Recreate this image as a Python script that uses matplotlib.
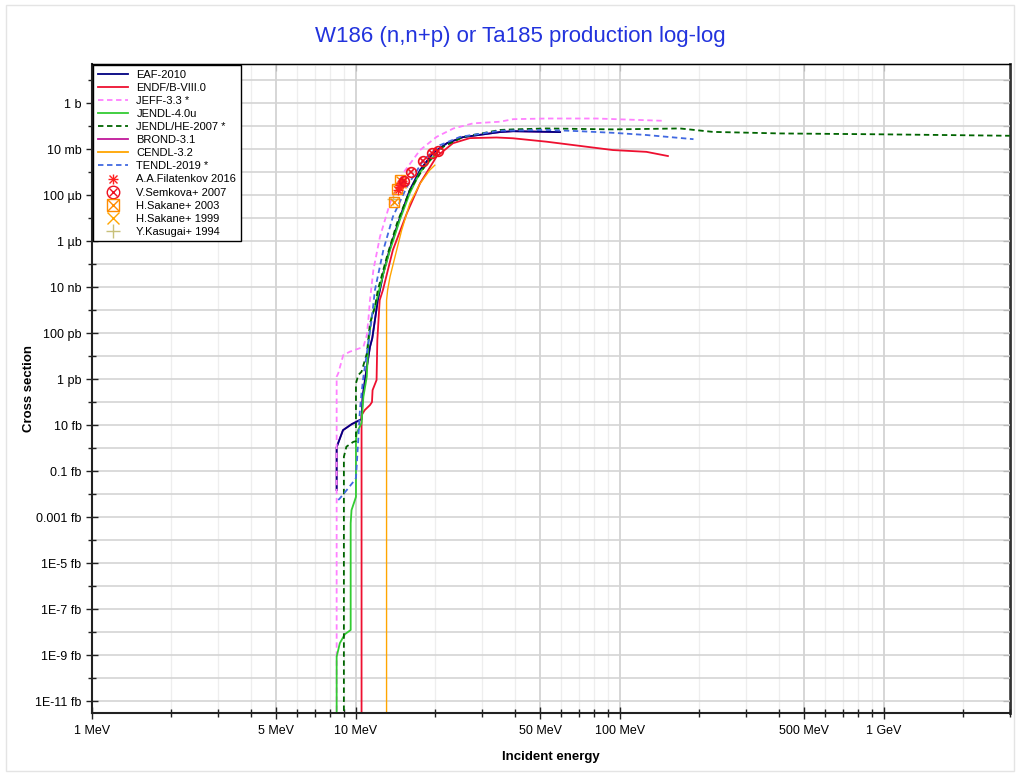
import numpy as np
import matplotlib
matplotlib.use("Agg")
import matplotlib.pyplot as plt
from matplotlib.patches import Rectangle
from matplotlib.ticker import FixedLocator, NullFormatter

plt.rcParams['font.family'] = ['Liberation Sans', 'DejaVu Sans']

# energies in MeV, cross sections in barn
eaf_e = [8.45, 8.45, 8.93, 9.64, 10.5, 10.6, 10.98, 11.3, 11.53, 11.8, 12.1, 12.7, 13.5,
         14.7, 16.0, 17.5, 19.6, 22.1, 25.4, 35.1, 39.4, 59.3]
eaf_xs = [1.5e-17, 1.1e-15, 6.0e-15, 1.1e-14, 1.8e-14, 1.7e-13, 3.0e-12, 2.5e-11, 6.0e-11,
          3.7e-10, 2.7e-9, 4.1e-8, 5.5e-7, 1.1e-5, 1.66e-4, 1.23e-3, 6.8e-3, 1.8e-2, 3.3e-2,
          5.5e-2, 6.0e-2, 5.5e-2]

endf_e = [10.5, 10.5, 10.8, 11.3, 11.5, 11.56, 11.97, 12.05, 12.3, 12.65, 13.8, 15.6, 17.5,
          20.2, 23.3, 27.0, 34.1, 39.4, 52.7, 70.5, 94.0, 126, 152]
endf_xs = [1e-28, 2.7e-14, 4.5e-14, 7.4e-14, 1.0e-13, 3.3e-13, 9.1e-13, 5.0e-11, 2.7e-9,
           7.4e-9, 4.1e-7, 1.66e-5, 3.3e-4, 4.7e-3, 1.8e-2, 3.0e-2, 3.2e-2, 2.95e-2, 2.1e-2,
           1.38e-2, 9.1e-3, 7.6e-3, 5.0e-3]

jeff_e = [8.45, 8.45, 8.57, 8.95, 9.48, 10.67, 10.99, 11.14, 11.3, 11.64, 12.33, 13.46, 15.1,
          17.5, 20.2, 23.4, 27.8, 35.1, 39.4, 52.7, 81.5, 146]
jeff_xs = [1e-28, 1.26e-12, 1.8e-12, 1.1e-11, 1.55e-11, 2.5e-11, 8.1e-11, 3.7e-10, 2.7e-9,
           5.5e-8, 1.55e-6, 4.5e-5, 9.1e-4, 9.1e-3, 3.4e-2, 7.9e-2, 0.132, 0.155, 0.20, 0.214,
           0.214, 0.17]

jendl_e = [8.45, 8.45, 8.69, 9.08, 9.55, 9.55, 9.62, 9.91, 10.0, 10.0, 10.06, 10.5, 10.67,
           10.99, 11.14, 11.46, 11.8, 12.65, 13.46, 14.7, 16.0, 17.5, 19.9]
jendl_xs = [1.6e-27, 8.5e-25, 3.3e-24, 8.1e-24, 1.23e-23, 5.4e-19, 2.0e-18, 5.5e-18, 7.6e-18,
            2.2e-15, 4.5e-15, 1.23e-14, 1.7e-13, 1.26e-12, 3.7e-11, 5.1e-10, 1.38e-9, 3.3e-8,
            4.1e-7, 9.1e-6, 1.23e-4, 1.0e-3, 5.5e-3]

jendlhe_e = [9.0, 9.0, 9.2, 9.77, 10.0, 10.0, 10.2, 10.5, 11.0, 11.3, 11.8, 12.1, 13.1, 14.3,
             16.0, 18.5, 21.4, 25.5, 35.1, 39.4, 52.7, 94.4, 169, 225, 404, 966, 3000]
jendlhe_xs = [1e-28, 4.2e-16, 1.15e-15, 1.86e-15, 2.0e-15, 6.5e-13, 1.48e-12, 2.1e-12,
              1.32e-11, 2.6e-10, 1.38e-9, 7.4e-9, 2.1e-7, 5.9e-6, 1.66e-4, 2.4e-3, 1.26e-2,
              3.4e-2, 6.8e-2, 7.2e-2, 7.9e-2, 7.2e-2, 7.9e-2, 5.6e-2, 4.8e-2, 4.4e-2, 3.8e-2]

tendl_e = [8.57, 8.69, 9.23, 9.77, 10.0, 10.2, 10.35, 10.5, 10.67, 11.14, 11.46, 11.8, 12.7,
           13.8, 15.6, 18.0, 20.8, 24.8, 35.1, 52.7, 70.5, 94.4, 126, 190]
tendl_xs = [5.5e-18, 6.5e-18, 1.5e-17, 3.4e-17, 5.0e-17, 2.2e-15, 4.5e-14, 2.5e-13, 1.26e-12,
            3.7e-11, 3.7e-10, 7.4e-9, 4.1e-7, 1.15e-5, 2.3e-4, 3.3e-3, 1.48e-2, 3.4e-2,
            6.3e-2, 6.8e-2, 6.0e-2, 5.1e-2, 4.1e-2, 2.7e-2]

cendl_e = [13.06, 13.06, 13.18, 13.46, 14.06, 14.9, 16.0, 17.5, 19.05, 19.9]
cendl_xs = [1e-28, 2.7e-9, 7.4e-9, 2.8e-8, 2.1e-7, 3.0e-6, 4.4e-5, 3.2e-4, 1.23e-3, 2.0e-3]

# experimental points
filat_e = [14.4, 14.55, 14.7, 14.85, 15.0, 15.1]
filat_xs = [1.66e-4, 2.2e-4, 2.7e-4, 3.3e-4, 4.1e-4, 3.3e-4]
semk_e = [15.2, 16.1, 18.0, 19.4, 20.5]
semk_xs = [4.2e-4, 9.8e-4, 3.1e-3, 6.5e-3, 8.1e-3]
sak03_e = [13.9, 14.3, 14.7]
sak03_xs = [5.0e-5, 1.8e-4, 4.5e-4]
sak99_e = [14.6, 14.9]
sak99_xs = [2.4e-4, 3.0e-4]
kas_e = [13.85]
kas_xs = [6.5e-5]

y_exps = list(range(-26, 1, 2))
y_labels = ['1E-11 fb', '1E-9 fb', '1E-7 fb', '1E-5 fb', '0.001 fb', '0.1 fb', '10 fb',
            '1 pb', '100 pb', '10 nb', '1 µb', '100 µb', '10 mb', '1 b']
x_major = [1, 5, 10, 50, 100, 500, 1000]
x_labels = ['1 MeV', '5 MeV', '10 MeV', '50 MeV', '100 MeV', '500 MeV', '1 GeV']

fig = plt.figure(figsize=(10.2, 7.74), dpi=100)
ax = fig.add_axes([0.0902, 0.0788, 0.8998, 0.8385])
fig.patches.append(Rectangle((0.006, 0.004), 0.988, 0.99, transform=fig.transFigure,
                             fill=False, ec='#e4e4e4', lw=1))

ax.set_xscale('log')
ax.set_yscale('log')
ax.set_xlim(1, 3000)
ax.set_ylim(10 ** -26.52, 10 ** 1.7)

dash = (3, 2)
lw = 1.3
ax.plot(eaf_e, eaf_xs, color='#c0189a', lw=lw, label='_brond')
ax.plot(eaf_e, eaf_xs, color='#000080', lw=lw)
ax.plot(endf_e, endf_xs, color='#ee1030', lw=lw)
ax.plot(jeff_e, jeff_xs, color='#ff80ff', lw=lw, dashes=dash)
ax.plot(jendl_e, jendl_xs, color='#33cc33', lw=lw)
ax.plot(jendlhe_e, jendlhe_xs, color='#006400', lw=lw, dashes=dash)
ax.plot(tendl_e, tendl_xs, color='#4169e1', lw=lw, dashes=dash)
ax.plot(cendl_e, cendl_xs, color='#ffa500', lw=1.0)

ax.plot(kas_e, kas_xs, '+', color='#c8c07a', ms=9, mew=1)
ax.plot(sak03_e, sak03_xs, 's', mfc='none', mec='#ff8c00', ms=7, mew=1)
ax.plot(sak03_e, sak03_xs, 'x', color='#ff8c00', ms=6, mew=1)
ax.plot(sak99_e, sak99_xs, 'x', color='#ffa500', ms=6, mew=1)
ax.plot(filat_e, filat_xs, '+', color='#ff2020', ms=7, mew=1)
ax.plot(filat_e, filat_xs, 'x', color='#ff2020', ms=5, mew=1)
ax.plot(semk_e, semk_xs, 'o', mfc='none', mec='#ee1020', ms=7, mew=1.2)
ax.plot(semk_e, semk_xs, 'x', color='#ee1020', ms=4.5, mew=1.2)

# legend
def ln(c, d=None, w=lw):
    h, = ax.plot([], [], color=c, lw=w)
    if d:
        h.set_dashes(d)
    return h

def mk(m, ms=7, **kw):
    h, = ax.plot([], [], m, ms=ms, mew=1, **kw)
    return h

handles = [
    ln('#000080'), ln('#ee1030'), ln('#ff80ff', dash), ln('#33cc33'), ln('#006400', dash),
    ln('#c0189a'), ln('#ffa500'), ln('#4169e1', dash),
    (mk('+', color='#ff2020'), mk('x', color='#ff2020', ms=6)),
    (mk('o', mfc='none', mec='#ee1020', ms=9), mk('x', color='#ee1020', ms=6)),
    (mk('s', mfc='none', mec='#ff8c00', ms=9), mk('x', color='#ff8c00', ms=8)),
    mk('x', color='#ffa500', ms=8),
    mk('+', color='#c8c07a', ms=10),
]
labels = ['EAF-2010', 'ENDF/B-VIII.0', 'JEFF-3.3 *', 'JENDL-4.0u', 'JENDL/HE-2007 *',
          'BROND-3.1', 'CENDL-3.2', 'TENDL-2019 *', 'A.A.Filatenkov 2016',
          'V.Semkova+ 2007', 'H.Sakane+ 2003', 'H.Sakane+ 1999', 'Y.Kasugai+ 1994']
leg = ax.legend(handles, labels, loc='upper left', bbox_to_anchor=(0.0, 1.0), fontsize=8,
                frameon=True, fancybox=False, edgecolor='black', framealpha=1,
                borderaxespad=0.1, labelspacing=0.28, handlelength=2.7, handletextpad=0.8,
                borderpad=0.4)
leg.get_frame().set_linewidth(1.0)

# ticks and grid
ax.xaxis.set_major_locator(FixedLocator(x_major))
ax.set_xticklabels(x_labels)
minors = [m * 10 ** k for k in range(0, 4) for m in range(2, 10) if m != 5]
ax.xaxis.set_minor_locator(FixedLocator(minors))
ax.xaxis.set_minor_formatter(NullFormatter())
ax.yaxis.set_major_locator(FixedLocator([10.0 ** e for e in y_exps]))
ax.set_yticklabels(y_labels)
ax.yaxis.set_minor_locator(FixedLocator([10.0 ** e for e in range(-25, 2, 2)]))
ax.yaxis.set_minor_formatter(NullFormatter())

ax.grid(True, which='major', axis='x', color='#d0d0d0', lw=1.2)
ax.grid(True, which='minor', axis='x', color='#eeeeee', lw=0.9)
ax.grid(True, which='both', axis='y', color='#d4d4d4', lw=1.2)
ax.set_axisbelow(True)

ax.tick_params(which='major', direction='inout', length=9, width=1, labelsize=9,
               color='#222222', pad=3)
ax.tick_params(which='minor', direction='inout', length=6, width=1, color='#222222')
ax.tick_params(axis='x', which='major', pad=4)

# inward ticks on the right and top sides via secondary axes
top = ax.secondary_xaxis('top')
top.xaxis.set_major_locator(FixedLocator(x_major))
top.xaxis.set_minor_locator(FixedLocator([]))
top.tick_params(direction='in', length=5, labeltop=False, color='#555555')
right = ax.secondary_yaxis('right')
right.yaxis.set_major_locator(FixedLocator([10.0 ** e for e in range(-26, 2)]))
right.yaxis.set_minor_locator(FixedLocator([]))
right.tick_params(direction='in', length=5, labelright=False, color='#333333')
right.spines['right'].set_linewidth(2.0)
right.spines['right'].set_color('#333333')

for s in ['left', 'bottom']:
    ax.spines[s].set_linewidth(1.5)
    ax.spines[s].set_color('#222222')
ax.spines['top'].set_linewidth(1.0)
ax.spines['right'].set_visible(False)

ax.set_xlabel('Incident energy', fontsize=9.5, fontweight='bold', labelpad=10)
ax.set_ylabel('Cross section', fontsize=9.5, fontweight='bold', labelpad=0)
fig.text(0.51, 0.953, 'W186 (n,n+p) or Ta185 production log-log', ha='center',
         va='center', fontsize=16, color='#2233dd')

fig.savefig('out.png', dpi=100)
